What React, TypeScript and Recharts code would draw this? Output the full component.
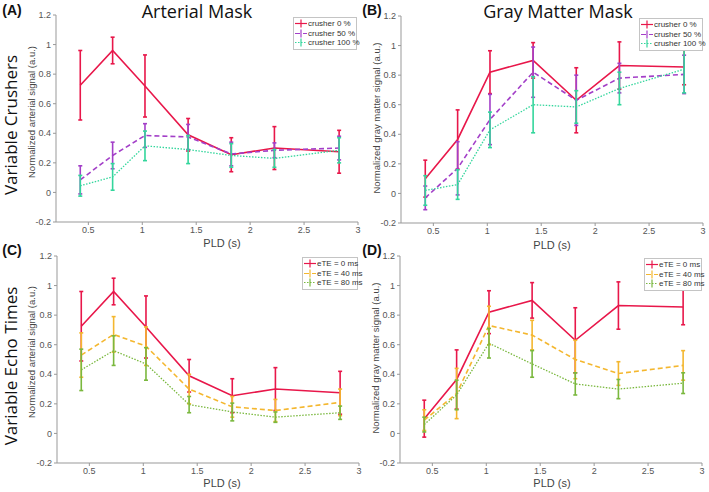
import { LineChart, Line, XAxis, YAxis, ErrorBar } from "recharts"

// post-labeling delays (s)
const pld = [0.425, 0.725, 1.025, 1.425, 1.825, 2.225, 2.825]

// arterial mask, variable crushers
const art0 = [0.725, 0.96, 0.72, 0.39, 0.255, 0.3, 0.275]
const art0Err = [0.235, 0.09, 0.21, 0.11, 0.115, 0.145, 0.145]
const art50 = [0.085, 0.25, 0.385, 0.375, 0.26, 0.285, 0.3]
const art50Err = [0.095, 0.09, 0.08, 0.085, 0.08, 0.05, 0.08]
const art100 = [0.045, 0.105, 0.315, 0.29, 0.25, 0.23, 0.285]
const art100Err = [0.07, 0.09, 0.1, 0.095, 0.08, 0.06, 0.085]

// arterial mask, variable echo times
const artTe40 = [0.53, 0.67, 0.59, 0.3, 0.18, 0.155, 0.21]
const artTe40Err = [0.15, 0.12, 0.13, 0.1, 0.07, 0.075, 0.09]
const artTe80 = [0.43, 0.56, 0.47, 0.195, 0.145, 0.11, 0.14]
const artTe80Err = [0.14, 0.1, 0.11, 0.055, 0.06, 0.035, 0.045]

// gray matter mask, variable crushers
const gm0 = [0.1, 0.365, 0.82, 0.9, 0.63, 0.865, 0.855]
const gm0Err = [0.125, 0.2, 0.145, 0.12, 0.22, 0.16, 0.12]
const gm50 = [-0.03, 0.17, 0.5, 0.82, 0.63, 0.78, 0.805]
const gm50Err = [0.08, 0.18, 0.17, 0.17, 0.17, 0.1, 0.13]
const gm100 = [0.02, 0.06, 0.43, 0.6, 0.585, 0.71, 0.84]
const gm100Err = [0.1, 0.1, 0.12, 0.19, 0.11, 0.11, 0.16]

// gray matter mask, variable echo times
const gmTe40 = [0.09, 0.27, 0.73, 0.665, 0.5, 0.405, 0.46]
const gmTe40Err = [0.07, 0.17, 0.13, 0.1, 0.13, 0.08, 0.1]
const gmTe80 = [0.06, 0.26, 0.61, 0.47, 0.335, 0.3, 0.34]
const gmTe80Err = [0.05, 0.1, 0.1, 0.09, 0.075, 0.065, 0.07]

const xTicks = [0.5, 1, 1.5, 2, 2.5, 3]
const yTicks = [-0.2, 0, 0.2, 0.4, 0.6, 0.8, 1, 1.2]

const RED = "#e8174a"
const PURPLE = "#a33fc8"
const TEAL = "#33d69c"
const ORANGE = "#f4b72f"
const GREEN = "#7ab83e"

type Series = { name: string; values: number[]; errors: number[]; color: string; dash?: string; width: number }

const crusherArt: Series[] = [
  { name: "crusher 0 %", values: art0, errors: art0Err, color: RED, width: 1.6 },
  { name: "crusher 50 %", values: art50, errors: art50Err, color: PURPLE, dash: "5 3", width: 1.6 },
  { name: "crusher 100 %", values: art100, errors: art100Err, color: TEAL, dash: "1.5 1.5", width: 1.3 },
]
const crusherGm: Series[] = [
  { name: "crusher 0 %", values: gm0, errors: gm0Err, color: RED, width: 1.6 },
  { name: "crusher 50 %", values: gm50, errors: gm50Err, color: PURPLE, dash: "5 3", width: 1.6 },
  { name: "crusher 100 %", values: gm100, errors: gm100Err, color: TEAL, dash: "1.5 1.5", width: 1.3 },
]
const teArt: Series[] = [
  { name: "eTE = 0 ms", values: art0, errors: art0Err, color: RED, width: 1.6 },
  { name: "eTE = 40 ms", values: artTe40, errors: artTe40Err, color: ORANGE, dash: "5 3", width: 1.6 },
  { name: "eTE = 80 ms", values: artTe80, errors: artTe80Err, color: GREEN, dash: "1.5 1.5", width: 1.3 },
]
const teGm: Series[] = [
  { name: "eTE = 0 ms", values: gm0, errors: gm0Err, color: RED, width: 1.6 },
  { name: "eTE = 40 ms", values: gmTe40, errors: gmTe40Err, color: ORANGE, dash: "5 3", width: 1.6 },
  { name: "eTE = 80 ms", values: gmTe80, errors: gmTe80Err, color: GREEN, dash: "1.5 1.5", width: 1.3 },
]

const tickStyle = { fontSize: 9, fill: "#555", fontFamily: "Arial, 'Liberation Sans', sans-serif" }

function Panel({ left, top, yw, mt, series }: { left: number; top: number; yw: number; mt: number; series: Series[] }) {
  const rows = pld.map((x, i) => {
    const r: Record<string, number> = { pld: x }
    series.forEach((s, k) => {
      r["s" + k] = s.values[i]
      r["e" + k] = s.errors[i]
    })
    return r
  })
  const plotW = 302
  const plotH = 207
  const mr = 10
  return (
    <div style={{ position: "absolute", left, top }}>
      <LineChart width={yw + plotW + mr} height={mt + plotH + 20} data={rows} margin={{ top: mt, right: mr, left: 0, bottom: 0 }}>
        <XAxis
          type="number"
          dataKey="pld"
          domain={[0.2, 3]}
          ticks={xTicks}
          height={20}
          tick={tickStyle}
          tickSize={3}
          stroke="#999"
          allowDataOverflow
        />
        <YAxis
          type="number"
          domain={[-0.2, 1.2]}
          ticks={yTicks}
          width={yw}
          tick={tickStyle}
          tickSize={3}
          tickMargin={2}
          stroke="#999"
          allowDataOverflow
        />
        {series.map((s, k) => (
          <Line
            key={s.name}
            dataKey={"s" + k}
            stroke={s.color}
            strokeWidth={s.width}
            strokeDasharray={s.dash}
            dot={false}
            isAnimationActive={false}
          >
            <ErrorBar dataKey={"e" + k} direction="y" width={2} stroke={s.color} strokeWidth={1.6} />
          </Line>
        ))}
      </LineChart>
    </div>
  )
}

function LegendBox({ left, top, width, series }: { left: number; top: number; width: number; series: Series[] }) {
  return (
    <div
      style={{
        position: "absolute",
        left,
        top,
        width,
        border: "1px solid #c4c4c4",
        background: "#fff",
        fontFamily: "Arial, 'Liberation Sans', sans-serif",
        fontSize: 8,
        color: "#333",
        padding: "1px 0",
        boxSizing: "border-box",
      }}
    >
      {series.map((s) => (
        <div key={s.name} style={{ display: "flex", alignItems: "center", height: 9.5 }}>
          <svg width={14} height={9} style={{ flex: "none" }}>
            <line x1={1} y1={4.5} x2={13} y2={4.5} stroke={s.color} strokeWidth={1.2} strokeDasharray={s.dash} />
            <line x1={7} y1={0.5} x2={7} y2={8.5} stroke={s.color} strokeWidth={1.2} />
          </svg>
          <span style={{ whiteSpace: "nowrap" }}>{s.name}</span>
        </div>
      ))}
    </div>
  )
}

const txt = (x: number, y: number, text: string, style: React.CSSProperties, rotate = false) => (
  <div
    style={{
      position: "absolute",
      left: x,
      top: y,
      transform: `translate(-50%, -50%)${rotate ? " rotate(-90deg)" : ""}`,
      whiteSpace: "nowrap",
      lineHeight: 1,
      ...style,
    }}
  >
    {text}
  </div>
)

const axisFont = { fontFamily: "Arial, 'Liberation Sans', sans-serif", color: "#444" }
const bigFont = { fontFamily: "'Open Sans', sans-serif", color: "#111" }
const letterFont = { fontFamily: "Arial, 'Liberation Sans', sans-serif", fontWeight: 700, fontSize: 14, color: "#111" }

export default function App() {
  return (
    <div style={{ position: "absolute", left: 0, top: 0, width: 709, height: 492, background: "#fff", overflow: "hidden" }}>
      <Panel left={0} top={0} yw={56} mt={15} series={crusherArt} />
      <Panel left={355} top={0} yw={46} mt={16} series={crusherGm} />
      <Panel left={0} top={240} yw={57} mt={16} series={teArt} />
      <Panel left={355} top={240} yw={45} mt={16} series={teGm} />

      <LegendBox left={293} top={17} width={64} series={crusherArt} />
      <LegendBox left={639} top={18} width={64} series={crusherGm} />
      <LegendBox left={302} top={257} width={56} series={teArt} />
      <LegendBox left={644} top={258} width={58} series={teGm} />

      {txt(197, 11, "Arterial Mask", { ...bigFont, fontSize: 18 })}
      {txt(558, 11, "Gray Matter Mask", { ...bigFont, fontSize: 18 })}
      {txt(10, 125, "Variable Crushers", { ...bigFont, fontSize: 17 }, true)}
      {txt(10, 366, "Variable Echo Times", { ...bigFont, fontSize: 17 }, true)}

      {txt(12, 10, "(A)", letterFont)}
      {txt(372, 10, "(B)", letterFont)}
      {txt(12, 250, "(C)", letterFont)}
      {txt(372, 250, "(D)", letterFont)}

      {txt(32, 112, "Normalized arterial signal (a.u.)", { ...axisFont, fontSize: 9.5 }, true)}
      {txt(377, 118, "Normalized gray matter signal (a.u.)", { ...axisFont, fontSize: 9.5 }, true)}
      {txt(32, 352, "Normalized arterial signal (a.u.)", { ...axisFont, fontSize: 9.5 }, true)}
      {txt(376, 358, "Normalized gray matter signal (a.u.)", { ...axisFont, fontSize: 9.5 }, true)}

      {txt(222, 243, "PLD (s)", { ...axisFont, fontSize: 11 })}
      {txt(552, 245, "PLD (s)", { ...axisFont, fontSize: 11 })}
      {txt(222, 483, "PLD (s)", { ...axisFont, fontSize: 11 })}
      {txt(552, 483, "PLD (s)", { ...axisFont, fontSize: 11 })}
    </div>
  )
}
